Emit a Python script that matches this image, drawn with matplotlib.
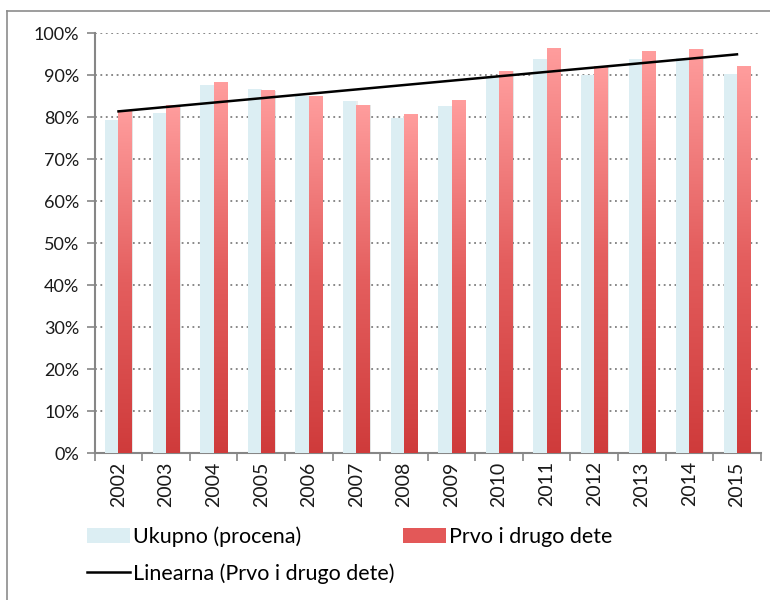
import numpy as np
import matplotlib
matplotlib.use("Agg")
import matplotlib.pyplot as plt
from matplotlib.colors import LinearSegmentedColormap
from matplotlib.patches import Patch
from matplotlib.lines import Line2D
from matplotlib.ticker import PercentFormatter

years = ["2002", "2003", "2004", "2005", "2006", "2007", "2008",
         "2009", "2010", "2011", "2012", "2013", "2014", "2015"]
ukupno = [79.3, 81.0, 87.6, 86.6, 85.0, 83.9, 79.8,
          82.6, 89.2, 93.7, 90.0, 93.8, 94.0, 90.2]
prvo_drugo = [81.5, 82.8, 88.1, 86.3, 84.8, 82.8, 80.7,
              83.9, 90.9, 96.3, 92.0, 95.6, 96.1, 92.0]

plt.rcParams['font.family'] = ['Lato', 'DejaVu Sans']

fig = plt.figure(figsize=(7.7, 6), dpi=100)
ax = fig.add_axes([0.123, 0.245, 0.865, 0.70])

x = np.arange(len(years))
w = 0.28
red_cmap = LinearSegmentedColormap.from_list("red", ["#CF3B3B", "#E45E5E", "#FF9D9D"])
grad = np.linspace(0, 1, 256).reshape(-1, 1)

# soft shadows
for xi, u, p in zip(x, ukupno, prvo_drugo):
    ax.bar(xi - w / 2 + 0.025, u, w, color="#000000", alpha=0.07, zorder=2, linewidth=0)
    ax.bar(xi + w / 2 + 0.025, p, w, color="#000000", alpha=0.10, zorder=2, linewidth=0)

ax.bar(x - w / 2, ukupno, w, color="#DCEEF3", zorder=3, linewidth=0)
for xi, p in zip(x, prvo_drugo):
    ax.imshow(grad, extent=[xi, xi + w, 0, p], origin="lower", aspect="auto",
              cmap=red_cmap, zorder=3)

# linear trend of Prvo i drugo dete (Excel "Linearna")
k, b = np.polyfit(x, prvo_drugo, 1)
ax.plot(x, k * x + b, color="black", lw=1.8, zorder=5)

ax.set_xlim(-0.5, len(years) - 0.5)
ax.set_ylim(0, 100)
ax.set_yticks(np.arange(0, 101, 10))
ax.yaxis.set_major_formatter(PercentFormatter(decimals=0))
ax.set_xticks(np.arange(len(years) + 1) - 0.5)
ax.set_xticklabels([])
ax.set_xticks(x, minor=True)
ax.set_xticklabels(years, minor=True, rotation=90)
ax.tick_params(axis="x", which="minor", length=0, pad=6, labelsize=14, colors="#1a1a1a")
ax.tick_params(axis="x", which="major", length=6, color="#868686", width=1.2)
ax.tick_params(axis="y", length=6, color="#868686", width=1.2, pad=5,
               labelsize=13, labelcolor="#1a1a1a")

ax.yaxis.grid(True, linestyle=(0, (1, 2)), color="#7f7f7f", lw=1.3)
ax.set_axisbelow(True)
for s in ["top", "right"]:
    ax.spines[s].set_visible(False)
for s in ["left", "bottom"]:
    ax.spines[s].set_color("#868686")
    ax.spines[s].set_linewidth(1.5)

handles = [Patch(facecolor="#DCEEF3", edgecolor="none"),
           Line2D([0], [0], color="black", lw=1.8),
           Patch(facecolor="#E35858", edgecolor="none")]
labels = ["Ukupno (procena)", "Linearna (Prvo i drugo dete)", "Prvo i drugo dete"]
fig.legend(handles, labels, ncol=2, loc="upper left", bbox_to_anchor=(0.113, 0.123),
           frameon=False, fontsize=15.5, handlelength=2.0, handletextpad=0.15,
           columnspacing=0.37, labelspacing=0.75, borderaxespad=0, borderpad=0)

# outer chart frame (cropped at right and bottom)
fig.add_artist(Line2D([7 / 770, 1], [1 - 11 / 600, 1 - 11 / 600], color="#8c8c8c", lw=1.2,
                      transform=fig.transFigure))
fig.add_artist(Line2D([7 / 770, 7 / 770], [0, 1 - 11 / 600], color="#8c8c8c", lw=1.2,
                      transform=fig.transFigure))

fig.savefig("out.png", dpi=100)
